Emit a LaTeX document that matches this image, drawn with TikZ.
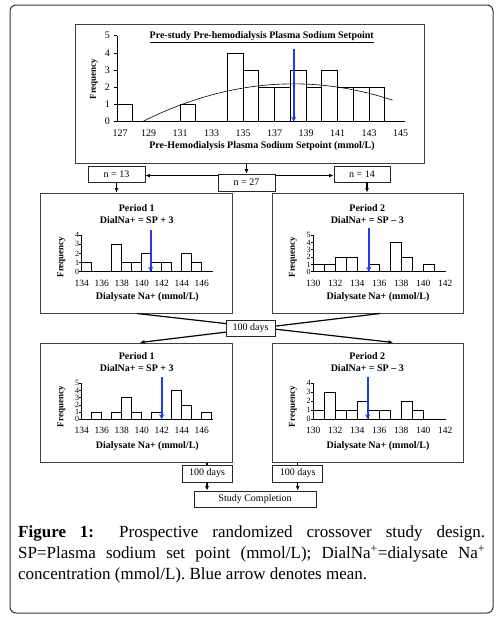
\documentclass[tikz,border=0pt]{standalone}
\usepackage{fontspec}
\setmainfont{Liberation Serif}
\usetikzlibrary{arrows.meta}
\definecolor{meanblue}{RGB}{30,60,235}
\begin{document}
\begin{tikzpicture}[x=1pt,y=-1pt,
  frame/.style={draw=black!80, line width=1pt, rounded corners=6pt},
  plotbox/.style={draw=black!75, line width=1pt, inner sep=0pt},
  flowbox/.style={draw=black!85, line width=0.9pt, fill=white, inner sep=0pt, font=\fontsize{10}{12}\selectfont},
  conn/.style={line width=1.2pt, -{Latex[length=4.5pt,width=4pt]}},
  plain/.style={line width=1.2pt},
  bar/.style={draw=black, line width=0.6pt},
  axis/.style={line width=0.6pt},
  meanarrow/.style={meanblue, line width=1.8pt, -{Stealth[length=5pt,width=5pt]}},
  ticklab/.style={font=\fontsize{9.5}{9.5}\selectfont, inner sep=0pt},
  ylab/.style={font=\fontsize{8}{8}\selectfont, inner sep=0pt},
  bigticklab/.style={font=\fontsize{10}{10}\selectfont, inner sep=0pt},
  boldlab/.style={font=\bfseries\fontsize{10}{12}\selectfont, inner sep=0pt},
  freqlab/.style={font=\bfseries\fontsize{9}{10}\selectfont, inner sep=0pt, rotate=90},
]
\useasboundingbox (0,0) rectangle (503,622);
\draw[frame] (10,5) rectangle (493,613);

% ---------- boxes ----------
\node[plotbox, minimum width=349pt, minimum height=138.5pt] (top) at (249.5,93.75) {};
\node[plotbox, minimum width=192pt, minimum height=120pt] (p1m) at (136,253) {};
\node[plotbox, minimum width=191pt, minimum height=120pt] (p2m) at (367.5,253) {};
\node[plotbox, minimum width=192pt, minimum height=119pt] (p1l) at (136,402.5) {};
\node[plotbox, minimum width=191pt, minimum height=119pt] (p2l) at (367.5,402.5) {};

% ---------- top histogram ----------
\node[boldlab] (ttitle) at (261.7,37) {\underline{Pre-study Pre-hemodialysis Plasma Sodium Setpoint}};
\node[boldlab] (txlab) at (262,146) {Pre-Hemodialysis Plasma Sodium Setpoint (mmol/L)};
\node[freqlab] (tfreq) at (94,79) {Frequency};
\begin{scope}[shift={(117,121.7)},x=15.75pt,y=17.2pt]
  \foreach \a/\h in {0/1,4/1,7/4,8/3,9/2,10/2,11/3,12/2,13/3,14/2,15/2,16/2}
    \draw[bar] (\a,0) rectangle (\a+1,\h);
  \draw[axis] (0,5) -- (0,0) -- (18.3,0);
  \foreach \i in {0,...,5} {
    \draw[axis] (0,\i) -- ++(-3pt,0);
    \node[bigticklab,anchor=east] (ty\i) at ([xshift=-7pt]0,\i) {\i};
  }
  \foreach \v/\p in {127/0.2,129/2,131/4,133/6,135/8,137/10,139/12,141/14,143/16,145/18}
    \node[bigticklab,anchor=north] (tx\v) at ([yshift=-8pt]\p,0) {\v};
  \draw[line width=0.6pt] plot[domain=1.6:17.5, samples=40, smooth] (\x,{2.2-0.0239*(\x-11.2)^2});
  \draw[meanarrow] (11.22,4.25) -- (11.22,0);
\end{scope}

% ---------- middle period 1 ----------
\node[boldlab] (p1mt) at (136.7,207.7) {Period 1};
\node[boldlab] (p1me) at (136.7,220) {DialNa+ = SP + 3};
\node[freqlab] (p1mf) at (61.5,257) {Frequency};
\node[boldlab] (p1mx) at (147.3,297) {Dialysate Na+ (mmol/L)};
\begin{scope}[shift={(81.7,271.7)},x=10pt,y=9.17pt]
  \foreach \a/\h in {0/1,3/3,4/1,5/1,6/2,7/1,8/1,10/2,11/1}
    \draw[bar] (\a,0) rectangle (\a+1,\h);
  \draw[axis] (0,4) -- (0,0) -- (13.1,0);
  \foreach \i in {0,...,4} {
    \draw[axis] (0,\i) -- ++(-2.5pt,0);
    \node[ylab,anchor=east] (ay\i) at ([xshift=-2.5pt]0,\i) {\i};
  }
  \foreach \v/\p in {134/0,136/2,138/4,140/6,142/8,144/10,146/12}
    \node[ticklab,anchor=north] (ax\v) at ([yshift=-8pt]\p,0) {\v};
  \draw[meanarrow] (6.9,4.55) -- (6.9,0);
\end{scope}

% ---------- middle period 2 ----------
\node[boldlab] (p2mt) at (367.3,207.7) {Period 2};
\node[boldlab] (p2me) at (367.3,220) {DialNa+ = SP -- 3};
\node[freqlab] (p2mf) at (293,257) {Frequency};
\node[boldlab] (p2mx) at (378,297) {Dialysate Na+ (mmol/L)};
\begin{scope}[shift={(313.3,271.7)},x=11pt,y=7.33pt]
  \foreach \a/\h in {0/1,1/1,2/2,3/2,5/1,7/4,8/2,10/1}
    \draw[bar] (\a,0) rectangle (\a+1,\h);
  \draw[axis] (0,5) -- (0,0) -- (12.1,0);
  \foreach \i in {0,...,5} {
    \draw[axis] (0,\i) -- ++(-2.5pt,0);
    \node[ylab,anchor=east] (by\i) at ([xshift=-2.5pt]0,\i) {\i};
  }
  \foreach \v/\p in {130/0,132/2,134/4,136/6,138/8,140/10,142/12}
    \node[ticklab,anchor=north] (bx\v) at ([yshift=-8pt]\p,0) {\v};
  \draw[meanarrow] (5.05,5.9) -- (5.05,0);
\end{scope}

% ---------- lower period 1 ----------
\node[boldlab] (p1lt) at (136.7,356) {Period 1};
\node[boldlab] (p1le) at (136.7,367.7) {DialNa+ = SP + 3};
\node[freqlab] (p1lf) at (61.5,406.7) {Frequency};
\node[boldlab] (p1lx) at (147.3,446) {Dialysate Na+ (mmol/L)};
\begin{scope}[shift={(81.7,419.3)},x=10pt,y=7.2pt]
  \foreach \a/\h in {1/1,3/1,4/3,5/1,7/1,9/4,10/2,12/1}
    \draw[bar] (\a,0) rectangle (\a+1,\h);
  \draw[axis] (0,5) -- (0,0) -- (13.1,0);
  \foreach \i in {0,...,5} {
    \draw[axis] (0,\i) -- ++(-2.5pt,0);
    \node[ylab,anchor=east] (cy\i) at ([xshift=-2.5pt]0,\i) {\i};
  }
  \foreach \v/\p in {134/0,136/2,138/4,140/6,142/8,144/10,146/12}
    \node[ticklab,anchor=north] (cx\v) at ([yshift=-8pt]\p,0) {\v};
  \draw[meanarrow] (8,5.9) -- (8,0);
\end{scope}

% ---------- lower period 2 ----------
\node[boldlab] (p2lt) at (367.3,356) {Period 2};
\node[boldlab] (p2le) at (367.3,367.7) {DialNa+ = SP -- 3};
\node[freqlab] (p2lf) at (293,406.7) {Frequency};
\node[boldlab] (p2lx) at (378,446) {Dialysate Na+ (mmol/L)};
\begin{scope}[shift={(313.3,419.3)},x=11pt,y=9pt]
  \foreach \a/\h in {0/1,1/3,2/1,3/1,4/2,5/1,6/1,8/2,9/1}
    \draw[bar] (\a,0) rectangle (\a+1,\h);
  \draw[axis] (0,4) -- (0,0) -- (12.1,0);
  \foreach \i in {0,...,4} {
    \draw[axis] (0,\i) -- ++(-2.5pt,0);
    \node[ylab,anchor=east] (dy\i) at ([xshift=-2.5pt]0,\i) {\i};
  }
  \foreach \v/\p in {130/0,132/2,134/4,136/6,138/8,140/10,142/12}
    \node[ticklab,anchor=north] (dx\v) at ([yshift=-8pt]\p,0) {\v};
  \draw[meanarrow] (4.95,4.73) -- (4.95,0);
\end{scope}

% ---------- flow ----------
\node[flowbox, minimum width=57pt, minimum height=16pt] (n13) at (116.5,174) {n = 13};
\node[flowbox, minimum width=57pt, minimum height=17pt] (n27) at (246.5,182.5) {n = 27};
\node[flowbox, minimum width=56pt, minimum height=16pt] (n14) at (362,174) {n = 14};

\draw[conn] (n27.north |- top.south) -- (n27.north);
\draw[conn] ([yshift=-2pt]n27.north west) -- ([yshift=-2pt]n27.north west -| n13.east);
\draw[conn] ([yshift=-2pt]n27.north east) -- ([yshift=-2pt]n27.north east -| n14.west);
\draw[conn] (n13.south) -- (n13.south |- p1m.north);
\draw[conn] ([xshift=5pt]n14.south) -- ([xshift=5pt]n14.south |- p2m.north);

\draw[conn] ([xshift=1pt]p1m.south) -- ([xshift=25.5pt]p2l.north);
\draw[conn] ([xshift=12.5pt]p2m.south) -- ([xshift=4pt]p1l.north);
\node[flowbox, minimum width=49pt, minimum height=16pt] (dmid) at (250.5,328) {100 days};

\node[flowbox, minimum width=50pt, minimum height=17pt] (dL) at (207,473.5) {100 days};
\node[flowbox, minimum width=50pt, minimum height=17pt] (dR) at (297.7,473.5) {100 days};
\node[flowbox, minimum width=122pt, minimum height=16pt] (study) at (255,499) {Study Completion};
\draw[plain] (dL.north |- p1l.south) -- (dL.north);
\draw[plain] (dR.north |- p2l.south) -- (dR.north);
\draw[conn] (dL.south) -- (dL.south |- study.north);
\draw[conn] (dR.south) -- (dR.south |- study.north);

% ---------- caption ----------
\node[anchor=north west, text width=467pt, inner sep=0pt, align=justify,
      font=\fontsize{17}{21.3}\selectfont] (cap) at (18,525)
  {\textbf{Figure 1:} Prospective randomized crossover study design.\linebreak
   SP=Plasma sodium set point (mmol/L); DialNa\textsuperscript{+}=dialysate Na\textsuperscript{+}\linebreak
   concentration (mmol/L). Blue arrow denotes mean.};
\end{tikzpicture}
\end{document}
